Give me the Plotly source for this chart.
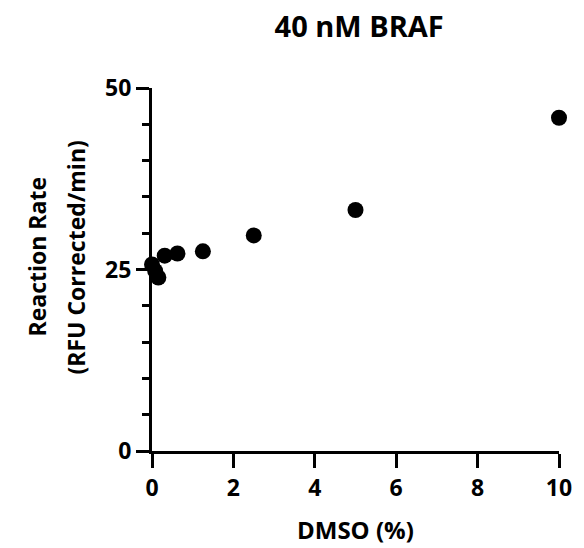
import plotly.graph_objects as go

dmso = [0, 0.078, 0.156, 0.3125, 0.625, 1.25, 2.5, 5, 10]
rate = [25.7, 24.8, 23.9, 26.9, 27.2, 27.5, 29.7, 33.2, 45.9]

x_ticks = [0, 2, 4, 6, 8, 10]
y_ticks = [0, 25, 50]

FONT = "Open Sans"

fig = go.Figure()
fig.add_trace(go.Scatter(
    x=dmso, y=rate, mode="markers",
    marker=dict(color="black", size=16, line=dict(width=0)),
    cliponaxis=False, showlegend=False,
))

fig.update_layout(
    width=584, height=548,
    margin=dict(l=152, r=19, t=88, b=97),
    plot_bgcolor="white", paper_bgcolor="white",
    font=dict(family=FONT, color="black", size=22),
    title=dict(text="<b>40 nM BRAF</b>", x=0.615, xanchor="center",
               y=0.951, yanchor="middle", font=dict(size=29, family=FONT)),
)

fig.update_xaxes(
    range=[0, 10], tickvals=x_ticks, ticktext=[f"<b>{v}</b>" for v in x_ticks],
    showgrid=False, zeroline=False, showline=True, linecolor="black", linewidth=3,
    ticks="outside", ticklen=14, tickwidth=3, tickcolor="black",
    tickfont=dict(size=23),
)
fig.update_yaxes(
    range=[0, 50], tickvals=y_ticks, ticktext=[f"<b>{v}</b>" for v in y_ticks],
    showgrid=False, zeroline=False, showline=True, linecolor="black", linewidth=3,
    ticks="outside", ticklen=13, tickwidth=3, tickcolor="black",
    tickfont=dict(size=23),
    minor=dict(tickvals=[5, 10, 15, 20, 30, 35, 40, 45], ticks="outside",
               ticklen=7, tickwidth=3, tickcolor="black"),
)

# axis titles
fig.add_annotation(text="<b>DMSO (%)</b>", xref="paper", yref="paper", x=0.5, y=0,
                   xanchor="center", yanchor="middle", yshift=-78, showarrow=False,
                   font=dict(size=24))
fig.add_annotation(text="<b>Reaction Rate</b>", xref="paper", yref="paper", x=0, y=0.5,
                   xanchor="center", yanchor="middle", xshift=-116, yshift=12,
                   textangle=-90, showarrow=False, font=dict(size=23))
fig.add_annotation(text="<b>(RFU Corrected/min)</b>", xref="paper", yref="paper", x=0, y=0.5,
                   xanchor="center", yanchor="middle", xshift=-77, yshift=12,
                   textangle=-90, showarrow=False, font=dict(size=23))

fig.write_html("out.html")
